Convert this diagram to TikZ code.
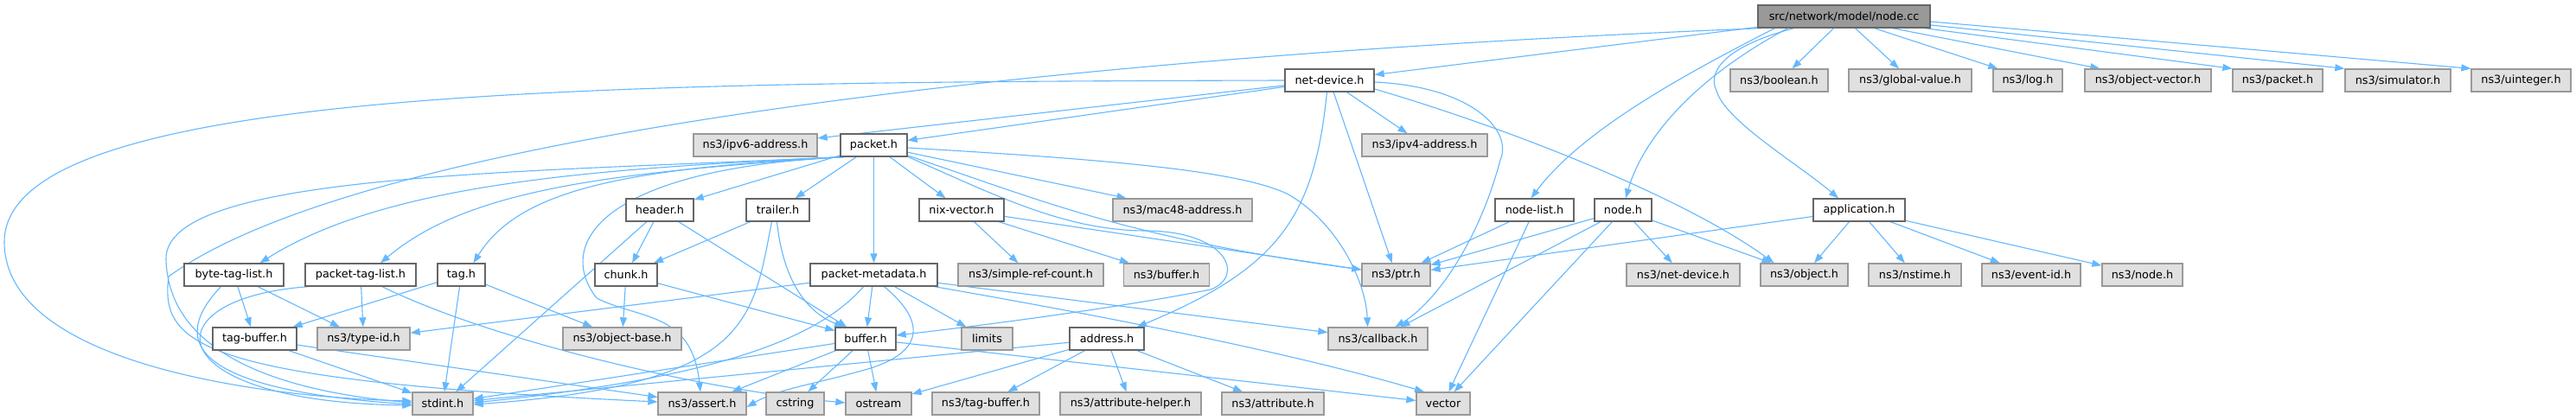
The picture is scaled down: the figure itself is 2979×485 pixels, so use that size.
\documentclass[tikz,border=0pt]{standalone}
\usepackage{fontspec}
\setmainfont{DejaVu Sans}
\usetikzlibrary{arrows.meta}
\definecolor{edgec}{HTML}{63B8FF}
\definecolor{gfill}{HTML}{E0E0E0}
\definecolor{gdraw}{HTML}{999999}
\definecolor{wdraw}{HTML}{666666}
\definecolor{rfill}{HTML}{999999}
\pgfdeclarelayer{bglayer}
\pgfdeclarelayer{edgelayer}
\pgfsetlayers{bglayer,edgelayer,main}
\begin{document}
\begin{tikzpicture}[x=1pt,y=-1pt,
  box/.style={rectangle, minimum height=26pt, inner sep=0pt, line width=1.3pt, font=\fontsize{12.8}{15}\selectfont},
  fh/.style={box, draw=wdraw, fill=white},
  ext/.style={box, draw=gdraw, fill=gfill},
  rootbox/.style={box, draw=wdraw, fill=rfill},
  e/.style={draw=edgec, line width=1.1pt, -{Triangle[length=11pt,width=8pt]}}]
\begin{pgfonlayer}{bglayer}
\useasboundingbox[fill=white] (0,0) rectangle (2979,485);
\end{pgfonlayer}

% row 0
\node[rootbox, minimum width=199pt] (nodecc) at (2132.5,19) {src/network/model/node.cc};
% row 1
\node[fh,  minimum width=103pt] (netdev) at (1537.5,93) {net-device.h};
\node[ext, minimum width=113pt] (bool) at (2057.5,93) {ns3/boolean.h};
\node[ext, minimum width=142pt] (gval) at (2209,93) {ns3/global-value.h};
\node[ext, minimum width=80pt]  (logh) at (2345,93) {ns3/log.h};
\node[ext, minimum width=146pt] (ovec) at (2484,93) {ns3/object-vector.h};
\node[ext, minimum width=104pt] (npkt) at (2634,93) {ns3/packet.h};
\node[ext, minimum width=122pt] (sim) at (2773,93) {ns3/simulator.h};
\node[ext, minimum width=115pt] (uint) at (2915.5,93) {ns3/uinteger.h};
% row 2
\node[ext, minimum width=143pt] (ipv6) at (873.5,168) {ns3/ipv6-address.h};
\node[fh,  minimum width=77pt]  (pk) at (1010.5,168) {packet.h};
\node[ext, minimum width=145pt] (ipv4) at (1647.5,168) {ns3/ipv4-address.h};
% row 3
\node[fh,  minimum width=78pt]  (hdr) at (763,243) {header.h};
\node[fh,  minimum width=73pt]  (trl) at (899.5,243) {trailer.h};
\node[fh,  minimum width=98pt]  (nix) at (1112,243) {nix-vector.h};
\node[ext, minimum width=161pt] (mac) at (1367.5,243) {ns3/mac48-address.h};
\node[fh,  minimum width=91pt]  (nlist) at (1774.5,243) {node-list.h};
\node[fh,  minimum width=66pt]  (nodeh) at (1877,243) {node.h};
\node[fh,  minimum width=106pt] (app) at (2150,243) {application.h};
% row 4
\node[fh,  minimum width=115pt] (btl) at (270.5,318) {byte-tag-list.h};
\node[fh,  minimum width=128pt] (ptl) at (417,318) {packet-tag-list.h};
\node[fh,  minimum width=55pt]  (tagh) at (533.5,318) {tag.h};
\node[fh,  minimum width=72pt]  (chunk) at (724,318) {chunk.h};
\node[fh,  minimum width=147pt] (pmd) at (1010.5,318) {packet-metadata.h};
\node[ext, minimum width=168pt] (src) at (1192,318) {ns3/simple-ref-count.h};
\node[ext, minimum width=99pt]  (nbuf) at (1349,318) {ns3/buffer.h};
\node[ext, minimum width=79pt]  (ptr) at (1614.5,318) {ns3/ptr.h};
\node[ext, minimum width=131pt] (nnd) at (1946.5,318) {ns3/net-device.h};
\node[ext, minimum width=101pt] (obj) at (2086.5,318) {ns3/object.h};
\node[ext, minimum width=107pt] (nst) at (2214.5,318) {ns3/nstime.h};
\node[ext, minimum width=114pt] (eid) at (2349,318) {ns3/event-id.h};
\node[ext, minimum width=93pt]  (nnode) at (2477.5,318) {ns3/node.h};
% row 5
\node[fh,  minimum width=97pt]  (tbuf) at (294.5,392) {tag-buffer.h};
\node[ext, minimum width=107pt] (tid) at (420.5,392) {ns3/type-id.h};
\node[ext, minimum width=137pt] (obase) at (719.5,392) {ns3/object-base.h};
\node[fh,  minimum width=70pt]  (buf) at (1001,392) {buffer.h};
\node[ext, minimum width=59pt]  (lim) at (1141.5,392) {limits};
\node[fh,  minimum width=86pt]  (addr) at (1280,392) {address.h};
\node[ext, minimum width=115pt] (cb) at (1593.5,392) {ns3/callback.h};
% row 6
\node[ext, minimum width=70pt]  (sd) at (512,467) {stdint.h};
\node[ext, minimum width=102pt] (asrt) at (812,467) {ns3/assert.h};
\node[ext, minimum width=67pt]  (cstr) at (919.5,467) {cstring};
\node[ext, minimum width=76pt]  (ost) at (1016,467) {ostream};
\node[ext, minimum width=124pt] (ntb) at (1140,467) {ns3/tag-buffer.h};
\node[ext, minimum width=163pt] (ahelp) at (1307.5,467) {ns3/attribute-helper.h};
\node[ext, minimum width=118pt] (attr) at (1472,467) {ns3/attribute.h};
\node[ext, minimum width=62pt]  (vec) at (1669,467) {vector};

\begin{pgfonlayer}{edgelayer}
% node.cc
\draw[e] (nodecc) -- (netdev);
\draw[e] ([xshift=-95pt]nodecc.south) .. controls (1100,70) and (400,170) .. (195,320) .. controls (185,400) and (230,440) .. ([yshift=2pt]asrt.west);
\draw[e] ([xshift=-80pt]nodecc.south) .. controls (1950,85) and (1830,150) .. ([xshift=-4pt]nlist.north);
\draw[e] ([xshift=-65pt]nodecc.south) .. controls (1960,90) and (1900,160) .. ([xshift=3pt]nodeh.north);
\draw[e] ([xshift=-58pt]nodecc.south) .. controls (1990,55) and (1975,85) .. (1985,105) .. controls (1995,140) and (2080,190) .. ([xshift=-24pt]app.north);
\draw[e] ([xshift=-12pt]nodecc.south) -- ([xshift=15pt]bool.north);
\draw[e] ([xshift=13pt]nodecc.south) -- ([xshift=-13pt]gval.north);
\draw[e] ([xshift=35pt]nodecc.south) -- ([xshift=6pt]logh.north west);
\draw[e] ([xshift=56pt]nodecc.south) -- ([xshift=18pt]ovec.north west);
\draw[e] ([xshift=-7pt]nodecc.south east) -- (npkt.north west);
\draw[e] ([yshift=-10pt]nodecc.east) -- (sim.north west);
\draw[e] ([yshift=-6pt]nodecc.east) -- (uint.north west);

% net-device.h
\draw[e] (netdev.west) .. controls (700,95) and (5,100) .. (5,280) .. controls (5,420) and (300,460) .. ([yshift=3pt]sd.west);
\draw[e] (netdev) -- (ipv6);
\draw[e] (netdev) -- (pk);
\draw[e] (netdev) -- (ipv4);
\draw[e] (netdev) -- (ptr);
\draw[e] ([yshift=-2pt]netdev.east) .. controls (1700,100) and (1750,150) .. (1735,185) .. controls (1710,280) and (1660,350) .. ([xshift=20pt]cb.north);
\draw[e] ([xshift=-3pt]netdev.south) .. controls (1520,250) and (1480,310) .. ([xshift=35pt]addr.north);
\draw[e] ([yshift=-10pt]netdev.east) .. controls (1750,150) and (1950,230) .. ([xshift=-35pt]obj.north);

% packet.h
\draw[e] ([xshift=1pt]pk.south west) .. controls (600,200) and (190,200) .. (192,300) .. controls (195,420) and (350,455) .. ([yshift=1pt]sd.west);
\draw[e] ([xshift=2pt]pk.south west) .. controls (700,195) and (450,210) .. ([xshift=30pt]btl.north);
\draw[e] ([xshift=3pt]pk.south west) .. controls (700,200) and (540,220) .. ([xshift=23pt]ptl.north);
\draw[e] ([xshift=4pt]pk.south west) .. controls (720,195) and (600,220) .. ([xshift=14pt]tagh.north);
\draw[e] ([xshift=5pt]pk.south west) .. controls (700,195) and (640,280) .. (690,345) .. controls (740,370) and (800,360) .. ([xshift=-2pt]asrt.north);
\draw[e] (pk) -- (hdr);
\draw[e] (pk) -- (trl);
\draw[e] (pk) -- (pmd);
\draw[e] (pk) -- (nix);
\draw[e] (pk) -- (mac);
\draw[e] ([yshift=-3pt]pk.east) .. controls (1250,183) and (1430,195) .. (1490,225) .. controls (1550,260) and (1580,330) .. ([xshift=-12pt]cb.north);
\draw[e] ([yshift=-12pt]pk.east) .. controls (1200,230) and (1300,275) .. ([yshift=6pt]ptr.west);
\draw[e] ([yshift=-12pt,xshift=-3pt]pk.east) .. controls (1150,225) and (1230,267) .. (1326,267) .. controls (1420,268) and (1440,320) .. (1400,335) .. controls (1300,355) and (1150,375) .. ([yshift=4pt]buf.east);

% header.h / trailer.h / chunk.h
\draw[e] (hdr) -- (chunk);
\draw[e] (hdr) -- (buf);
\draw[e] (hdr) -- (sd);
\draw[e] (trl) -- (chunk);
\draw[e] ([xshift=-1pt]trl.south) .. controls (905,320) and (930,360) .. ([xshift=-25pt]buf.north);
\draw[e] ([xshift=-7pt]trl.south) .. controls (870,370) and (870,445) .. ([yshift=-1pt]sd.east);
\draw[e] (chunk) -- (obase);
\draw[e] (chunk) -- (buf);

% byte-tag-list.h / packet-tag-list.h / tag.h / tag-buffer.h
\draw[e] (btl) -- (tbuf);
\draw[e] (btl) -- (tid);
\draw[e] ([xshift=-15pt]btl.south) .. controls (200,390) and (210,450) .. ([yshift=-1pt]sd.west);
\draw[e] (ptl) -- (tid);
\draw[e] ([xshift=-60pt]ptl.south) .. controls (170,345) and (180,465) .. ([yshift=-2pt]sd.west);
\draw[e] ([xshift=25pt]ptl.south) .. controls (560,390) and (800,450) .. ([yshift=1pt]ost.west);
\draw[e] (tagh) -- (tbuf);
\draw[e] (tagh) -- (sd);
\draw[e] (tagh) -- (obase);
\draw[e] (tbuf) -- (sd);
\draw[e] (tbuf) -- (asrt);

% packet-metadata.h
\draw[e] (pmd) -- (tid);
\draw[e] (pmd) -- (buf);
\draw[e] ([xshift=-12pt]pmd.south) .. controls (940,400) and (800,440) .. ([yshift=1pt]sd.east);
\draw[e] ([xshift=12pt]pmd.south) .. controls (1075,375) and (1065,410) .. (1000,428) .. controls (940,445) and (900,450) .. ([yshift=-4pt]asrt.east);
\draw[e] (pmd) -- (lim);
\draw[e] ([xshift=-4pt]pmd.south east) .. controls (1300,370) and (1500,410) .. ([xshift=-22pt]vec.north);
\draw[e] (pmd) -- (cb);

% nix-vector.h
\draw[e] (nix) -- (src);
\draw[e] (nix) -- (nbuf);
\draw[e] (nix) -- (ptr);

% buffer.h
\draw[e] (buf) -- (sd);
\draw[e] (buf) -- (asrt);
\draw[e] (buf) -- (cstr);
\draw[e] (buf) -- (ost);
\draw[e] (buf) -- (vec);

% address.h
\draw[e] (addr) -- (sd);
\draw[e] (addr) -- (ost);
\draw[e] (addr) -- (ntb);
\draw[e] (addr) -- (ahelp);
\draw[e] (addr) -- (attr);

% node-list.h / node.h
\draw[e] (nlist) -- (ptr);
\draw[e] (nlist) -- (vec);
\draw[e] (nodeh) -- (ptr);
\draw[e] (nodeh) -- (nnd);
\draw[e] (nodeh) -- (obj);
\draw[e] (nodeh) -- (cb);
\draw[e] (nodeh) -- (vec);

% application.h
\draw[e] (app) -- (ptr);
\draw[e] (app) -- (obj);
\draw[e] (app) -- (nst);
\draw[e] (app) -- (eid);
\draw[e] (app) -- (nnode);
\end{pgfonlayer}
\end{tikzpicture}
\end{document}
